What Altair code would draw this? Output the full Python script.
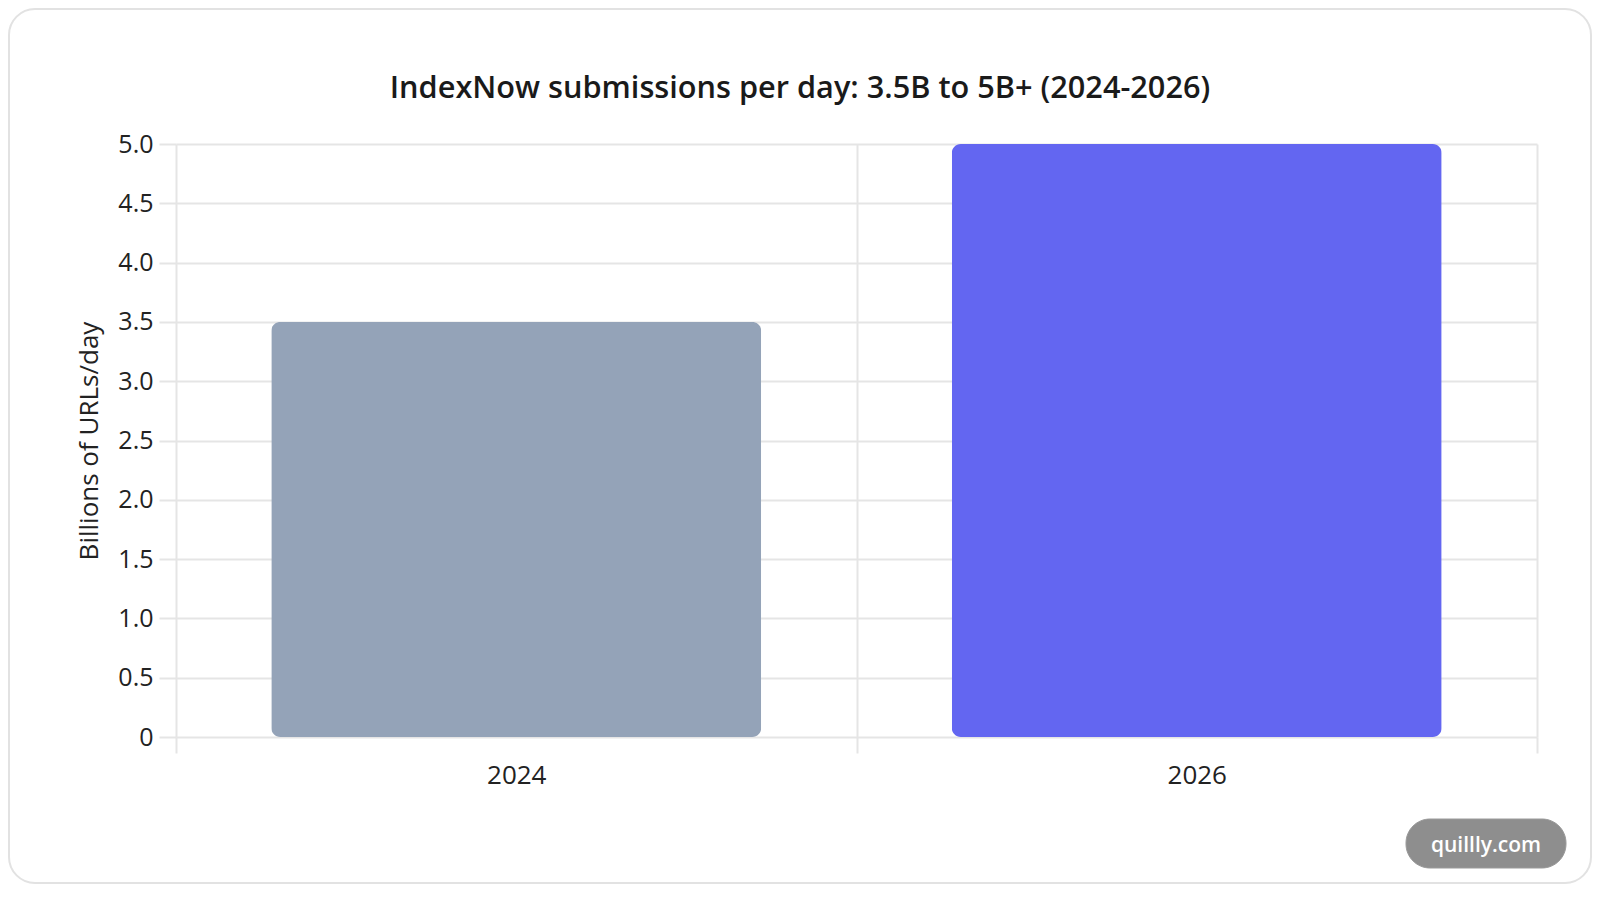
import altair as alt
import pandas as pd

# ---- data ----
years = ["2024", "2026"]
values = [3.5, 5.0]
bar_colors = ["#94a3b8", "#6366f1"]
y_ticks = [0, 0.5, 1.0, 1.5, 2.0, 2.5, 3.0, 3.5, 4.0, 4.5, 5.0]

title_text = "IndexNow submissions per day: 3.5B to 5B+ (2024-2026)"
y_title = "Billions of URLs/day"
watermark = "quillly.com"

FONT = "Open Sans"
GRID = "#e5e5e5"
W, H = 1361, 593

df = pd.DataFrame({"year": years, "value": values})
one = alt.Data(values=[{}])

card = alt.Chart(one).mark_rect(
    fill="white", fillOpacity=0, stroke="#e2e2e2", strokeWidth=2, cornerRadius=26
).encode(
    x=alt.value(-167), x2=alt.value(1415), y=alt.value(-135), y2=alt.value(739)
)

title = alt.Chart(one).mark_text(
    text=title_text, font=FONT, fontSize=30.7, fontWeight=600, color="#1a1a1a",
    align="center", baseline="alphabetic"
).encode(x=alt.value(624), y=alt.value(-46))

bars = alt.Chart(df).mark_bar(
    cornerRadius=9, width=alt.RelativeBandSize(0.72)
).encode(
    x=alt.X(
        "year:N",
        sort=None,
        scale=alt.Scale(paddingInner=0, paddingOuter=0),
        axis=alt.Axis(
            title=None,
            labelAngle=0,
            tickBand="extent",
            grid=True,
            gridColor=GRID,
            gridWidth=2,
            ticks=True,
            tickSize=16,
            tickColor=GRID,
            tickWidth=2,
            domain=False,
            labelFont=FONT,
            labelFontSize=26,
            labelColor="#222222",
            labelPadding=9,
        ),
    ),
    y=alt.Y(
        "value:Q",
        scale=alt.Scale(domain=[0, 5], nice=False),
        axis=alt.Axis(
            title=y_title,
            values=y_ticks,
            labelExpr="datum.value == 0 ? '0' : format(datum.value, '.1f')",
            grid=True,
            gridColor=GRID,
            gridWidth=2,
            ticks=True,
            tickSize=17,
            tickColor=GRID,
            tickWidth=2,
            domain=False,
            labelFont=FONT,
            labelFontSize=25,
            labelColor="#222222",
            labelPadding=6,
            titleFont=FONT,
            titleFontSize=26,
            titleFontWeight="normal",
            titleColor="#222222",
            titlePadding=15,
        ),
    ),
    color=alt.Color(
        "year:N",
        scale=alt.Scale(domain=years, range=bar_colors),
        legend=None,
    ),
)

pill = alt.Chart(one).mark_rect(
    fill="#8e8e8e", stroke="#9a9a9a", strokeWidth=1, cornerRadius=24
).encode(
    x=alt.value(1230), x2=alt.value(1390), y=alt.value(675), y2=alt.value(724)
)

wm_text = alt.Chart(one).mark_text(
    text=watermark, font=FONT, fontSize=21, fontWeight=600, color="white",
    align="center", baseline="middle"
).encode(x=alt.value(1310), y=alt.value(702))

chart = alt.layer(card, title, bars, pill, wm_text).properties(
    width=W,
    height=H,
    padding={"left": 168, "top": 136, "right": 55, "bottom": 147},
    autosize=alt.AutoSizeParams(type="none"),
    background="white",
).configure_view(stroke=None)

chart.save("out.html", embed_options={"renderer": "svg", "actions": False})
